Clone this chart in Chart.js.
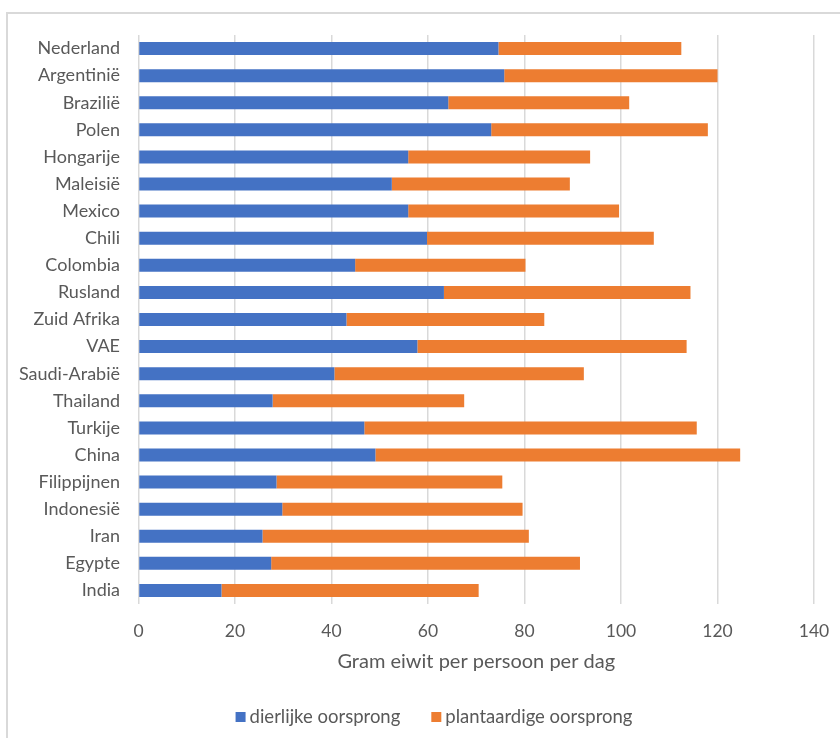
<!DOCTYPE html>
<html><head><meta charset="utf-8">
<script src="https://cdn.jsdelivr.net/npm/chart.js@4.4.0/dist/chart.umd.min.js"></script>
<style>
html,body{margin:0;padding:0;background:#fff;overflow:hidden;width:840px;height:738px;}
#frame{position:absolute;left:6px;top:12px;width:900px;height:800px;border:2px solid #d9d9d9;box-sizing:border-box;}
canvas{position:absolute;left:0;top:0;}
</style></head><body>
<div id="frame"></div>
<canvas id="c" width="840" height="738"></canvas>
<script>
const categories = ['Nederland','Argentinië','Brazilië','Polen','Hongarije','Maleisië','Mexico','Chili','Colombia','Rusland','Zuid Afrika','VAE','Saudi-Arabië','Thailand','Turkije','China','Filippijnen','Indonesië','Iran','Egypte','India'];
const animal = [74.6,75.8,64.2,73.1,55.9,52.5,55.9,59.8,44.9,63.3,43.1,57.8,40.6,27.8,46.8,49.1,28.6,29.8,25.7,27.5,17.2];
const plant  = [37.9,44.2,37.5,44.9,37.7,36.9,43.7,47.0,35.3,51.1,41.0,55.8,51.7,39.7,68.9,75.6,46.8,49.8,55.2,64.0,53.3];
const seriesNames = ['dierlijke oorsprong','plantaardige oorsprong'];
const seriesColors = ['#4472C4','#ED7D31'];
const xMin = 0, xMax = 140, xStep = 20;
const xTitle = 'Gram eiwit per persoon per dag';

const textColor = '#595959';
const FONT = 'Lato';

const legendPlugin = {
  id: 'customLegend',
  afterDraw(chart) {
    const ctx = chart.ctx;
    ctx.save();
    ctx.font = '18.5px ' + FONT;
    const box = 10, gapText = 4, gapItem = 31;
    const widths = seriesNames.map(n => ctx.measureText(n).width);
    let total = 0;
    widths.forEach((w, i) => { total += box + gapText + w + (i ? gapItem : 0); });
    let x = 434 - total / 2;
    const cy = 717;
    ctx.textBaseline = 'middle';
    ctx.textAlign = 'left';
    seriesNames.forEach((n, i) => {
      ctx.fillStyle = seriesColors[i];
      ctx.fillRect(x, cy - box / 2, box, box);
      x += box + gapText;
      ctx.fillStyle = textColor;
      ctx.fillText(n, x, cy);
      x += widths[i] + gapItem;
    });
    ctx.restore();
  }
};

new Chart(document.getElementById('c'), {
  type: 'bar',
  data: {
    labels: categories,
    datasets: [
      { label: seriesNames[0], data: animal, backgroundColor: seriesColors[0], borderWidth: 0 },
      { label: seriesNames[1], data: plant, backgroundColor: seriesColors[1], borderWidth: 0 }
    ]
  },
  options: {
    indexAxis: 'y',
    responsive: false,
    animation: false,
    devicePixelRatio: 1,
    datasets: { bar: { categoryPercentage: 1, barPercentage: 0.48 } },
    layout: { padding: { left: 0, top: 35, right: 26, bottom: 0 } },
    plugins: { legend: { display: false }, tooltip: { enabled: false } },
    scales: {
      x: {
        stacked: true,
        min: xMin, max: xMax,
        ticks: { stepSize: xStep, padding: 17, color: textColor, font: { family: FONT, size: 17.5 } },
        grid: { color: '#d9d9d9', lineWidth: 1.5, drawTicks: false },
        border: { display: false },
        title: { display: true, text: xTitle, color: textColor, font: { family: FONT, size: 20 }, padding: { top: 0, bottom: 64 } },
        afterFit(scale) { scale.height = 134; scale.paddingRight = 0; scale.paddingLeft = 0; }
      },
      y: {
        stacked: true,
        ticks: { padding: 18.5, color: textColor, font: { family: FONT, size: 18 } },
        grid: { display: false, drawTicks: false },
        border: { display: false },
        afterFit(scale) { scale.width = 138.5; scale.paddingTop = 0; scale.paddingBottom = 0; }
      }
    }
  },
  plugins: [legendPlugin]
});
</script>
</body></html>
